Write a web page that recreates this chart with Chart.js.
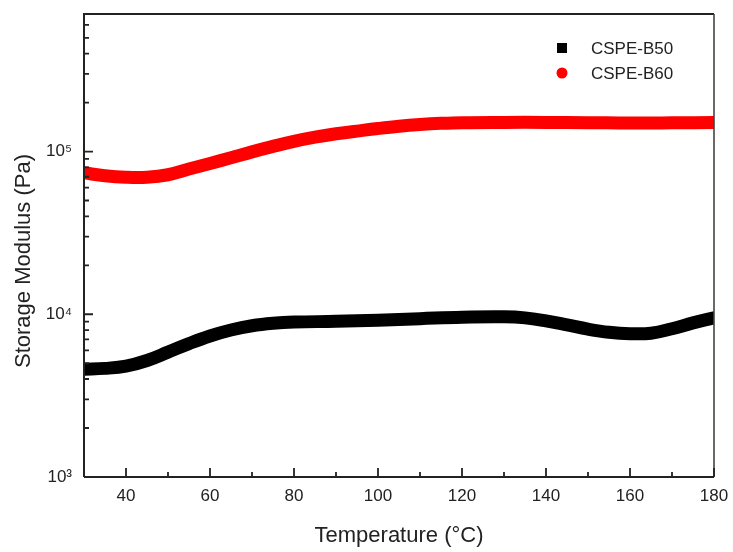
<!DOCTYPE html>
<html>
<head>
<meta charset="utf-8">
<script src="https://cdn.jsdelivr.net/npm/chart.js@4/dist/chart.umd.min.js"></script>
<style>
  html, body { margin: 0; padding: 0; background: #ffffff; }
  #wrap { width: 733px; height: 552px; position: relative; }
</style>
</head>
<body>
<div id="wrap"><canvas id="c" width="733" height="552"></canvas></div>
<script>
// ---- Data ----
const seriesNames = ["CSPE-B50", "CSPE-B60"];
const seriesColors = ["#000000", "#ff0000"];

const tempB50 = [30, 35, 40, 45, 50, 55, 60, 65, 70, 75, 80, 90, 100, 110, 120, 130, 135, 140, 145, 150, 155, 160, 165, 170, 175, 180];
const modB50  = [4600, 4650, 4800, 5200, 5850, 6600, 7350, 8000, 8500, 8800, 8950, 9050, 9200, 9400, 9600, 9650, 9500, 9100, 8600, 8100, 7750, 7600, 7650, 8150, 8850, 9500];

const tempB60 = [30, 35, 40, 45, 50, 55, 60, 65, 70, 75, 80, 85, 90, 95, 100, 105, 110, 115, 120, 130, 140, 150, 160, 170, 180];
const modB60  = [74000, 71000, 69500, 69500, 72000, 78000, 84500, 91500, 99500, 107500, 115500, 122500, 128500, 133500, 138500, 143000, 146500, 149000, 150500, 151000, 151000, 150500, 149500, 150000, 151000];

const xMajorTicks = [40, 60, 80, 100, 120, 140, 160, 180];
const xMinorTicks = [50, 70, 90, 110, 130, 150, 170];
const yMajorTicks = [1000, 10000, 100000];
const yTickLabels = ["10\u00B3", "10\u2074", "10\u2075"];
const yMinorTicks = [2000, 3000, 4000, 5000, 6000, 7000, 8000, 9000,
                     20000, 30000, 40000, 50000, 60000, 70000, 80000, 90000,
                     200000, 300000, 400000, 500000, 600000];
const xTitle = "Temperature (\u00B0C)";
const yTitle = "Storage Modulus (Pa)";

const FONT = "'Liberation Sans', Arial, sans-serif";

function pts(xs, ys) { return xs.map((x, i) => ({ x: x, y: ys[i] })); }

const framePlugin = {
  id: 'frame',
  afterDraw(chart) {
    const ctx = chart.ctx;
    const a = chart.chartArea;
    const xs = chart.scales.x, ys = chart.scales.y;
    ctx.save();
    ctx.strokeStyle = '#222';
    ctx.lineWidth = 2;
    ctx.beginPath();
    ctx.moveTo(a.left, a.bottom); ctx.lineTo(a.left, a.top); ctx.lineTo(a.right, a.top);
    ctx.stroke();
    ctx.beginPath();
    ctx.moveTo(a.left, a.bottom); ctx.lineTo(a.right, a.bottom);
    ctx.stroke();
    ctx.strokeStyle = '#444';
    ctx.lineWidth = 1.6;
    ctx.beginPath();
    ctx.moveTo(a.right, a.top); ctx.lineTo(a.right, a.bottom);
    ctx.stroke();
    // inward ticks
    ctx.strokeStyle = '#222';
    ctx.lineWidth = 1.8;
    ctx.beginPath();
    xMajorTicks.forEach(v => { const p = xs.getPixelForValue(v); ctx.moveTo(p, a.bottom); ctx.lineTo(p, a.bottom - 9); });
    xMinorTicks.forEach(v => { const p = xs.getPixelForValue(v); ctx.moveTo(p, a.bottom); ctx.lineTo(p, a.bottom - 5); });
    yMajorTicks.forEach(v => { const p = ys.getPixelForValue(v); ctx.moveTo(a.left, p); ctx.lineTo(a.left + 9, p); });
    yMinorTicks.forEach(v => { const p = ys.getPixelForValue(v); ctx.moveTo(a.left, p); ctx.lineTo(a.left + 5, p); });
    ctx.stroke();

    // y title
    ctx.fillStyle = '#222';
    ctx.font = "22px " + FONT;
    ctx.textAlign = 'center';
    ctx.textBaseline = 'middle';
    ctx.translate(24, 261);
    ctx.rotate(-Math.PI / 2);
    ctx.fillText(yTitle, 0, 0);
    ctx.restore();

    // legend
    ctx.save();
    ctx.font = "17px " + FONT;
    ctx.textAlign = 'left';
    ctx.textBaseline = 'middle';
    const lx = 562, ly = [48, 73];
    chart.data.datasets.forEach((ds, i) => {
      ctx.fillStyle = ds.borderColor;
      if (i === 0) {
        ctx.fillRect(lx - 5, ly[i] - 5, 10, 10);
      } else {
        ctx.beginPath(); ctx.arc(lx, ly[i], 5.5, 0, Math.PI * 2); ctx.fill();
      }
      ctx.fillStyle = '#222';
      ctx.fillText(ds.label, 591, ly[i] + 1);
    });
    ctx.restore();
  }
};

new Chart(document.getElementById('c'), {
  type: 'line',
  data: {
    datasets: [
      { label: seriesNames[0], data: pts(tempB50, modB50), borderColor: seriesColors[0], backgroundColor: seriesColors[0] },
      { label: seriesNames[1], data: pts(tempB60, modB60), borderColor: seriesColors[1], backgroundColor: seriesColors[1] }
    ]
  },
  options: {
    responsive: false,
    animation: false,
    clip: 0,
    layout: { autoPadding: false, padding: { left: 0, right: 19, top: 14, bottom: 0 } },
    elements: {
      point: { radius: 0, hoverRadius: 0 },
      line: { borderWidth: 13, tension: 0.4, borderCapStyle: 'round', borderJoinStyle: 'round', fill: false }
    },
    plugins: { legend: { display: false }, tooltip: { enabled: false } },
    scales: {
      x: {
        type: 'linear', min: 30, max: 180,
        afterFit(s) { s.height = 75; s.paddingLeft = 0; s.paddingRight = 0; },
        afterBuildTicks(s) { s.ticks = xMajorTicks.map(v => ({ value: v })); },
        grid: { display: false, drawTicks: false },
        border: { display: false },
        ticks: { color: '#222', font: { family: FONT, size: 17 }, padding: 9, maxRotation: 0, autoSkip: false },
        title: { display: true, text: xTitle, color: '#222', font: { family: FONT, size: 22 }, padding: { top: 0, bottom: 3 } }
      },
      y: {
        type: 'logarithmic', min: 1000, max: 700000,
        afterFit(s) { s.width = 84; s.paddingTop = 0; s.paddingBottom = 0; },
        afterBuildTicks(s) { s.ticks = yMajorTicks.map(v => ({ value: v })); },
        grid: { display: false, drawTicks: false },
        border: { display: false },
        ticks: {
          color: '#222', font: { family: FONT, size: 17 }, padding: 12, autoSkip: false,
          callback(v) { const i = yMajorTicks.indexOf(v); return i >= 0 ? yTickLabels[i] : ''; }
        }
      }
    }
  },
  plugins: [framePlugin]
});
</script>
</body>
</html>
